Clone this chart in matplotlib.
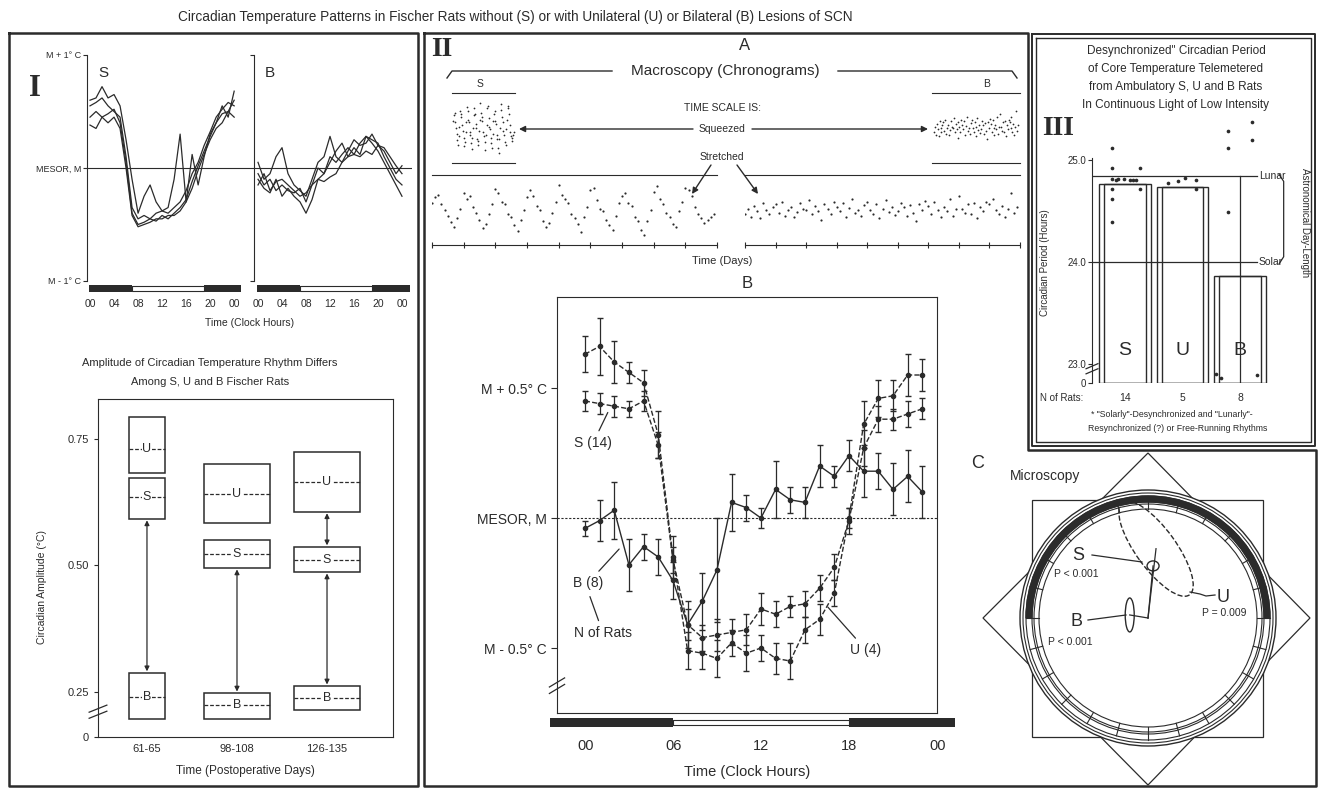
import numpy as np
import matplotlib.pyplot as plt
from matplotlib.patches import Rectangle, Ellipse, Circle, Polygon, Wedge
from matplotlib.transforms import blended_transform_factory

W, H = 1319, 789
plt.rcParams['font.family'] = ['Liberation Sans', 'DejaVu Sans']
INK = '#2b2b2b'

# ---------- Panel I (top): single rats, hourly means relative to MESOR (deg C)
hours25 = list(range(25))
S_rats = [
    [0.60, 0.62, 0.72, 0.62, 0.65, 0.55, 0.25, -0.10, -0.40, -0.25, -0.15, -0.30, -0.38, -0.35, -0.10, 0.30, -0.30, 0.12, -0.15, 0.10, 0.30, 0.40, 0.55, 0.45, 0.68],
    [0.55, 0.58, 0.62, 0.55, 0.50, 0.45, 0.10, -0.35, -0.45, -0.42, -0.45, -0.40, -0.38, -0.40, -0.35, -0.30, -0.20, -0.05, 0.05, 0.20, 0.32, 0.45, 0.52, 0.58, 0.55],
    [0.45, 0.50, 0.45, 0.48, 0.52, 0.40, 0.05, -0.40, -0.50, -0.48, -0.45, -0.47, -0.42, -0.45, -0.40, -0.35, -0.28, -0.12, 0.02, 0.15, 0.28, 0.40, 0.48, 0.50, 0.45],
    [0.38, 0.35, 0.45, 0.40, 0.45, 0.35, 0.00, -0.42, -0.52, -0.50, -0.48, -0.45, -0.45, -0.42, -0.42, -0.38, -0.30, -0.18, -0.02, 0.12, 0.25, 0.35, 0.40, 0.50, 0.60],
]
B_rats = [
    [0.05, -0.10, -0.05, 0.10, 0.18, -0.05, -0.15, -0.20, -0.25, -0.10, 0.05, 0.10, 0.28, 0.10, 0.05, 0.15, 0.25, 0.20, 0.22, 0.30, 0.20, 0.15, 0.05, -0.05, 0.02],
    [-0.05, -0.15, -0.10, -0.20, -0.15, -0.20, -0.22, -0.18, -0.30, -0.15, 0.00, -0.05, 0.10, 0.05, 0.12, 0.18, 0.12, 0.22, 0.28, 0.25, 0.22, 0.10, 0.00, -0.10, -0.15],
    [-0.10, -0.18, -0.22, -0.10, -0.25, -0.18, -0.25, -0.30, -0.40, -0.28, -0.10, -0.05, 0.05, 0.15, 0.22, 0.10, 0.18, 0.12, 0.28, 0.22, 0.15, 0.05, -0.05, -0.15, -0.25],
    [-0.15, -0.05, -0.20, -0.12, -0.10, -0.15, -0.20, -0.25, -0.22, -0.15, -0.10, -0.12, -0.08, -0.05, 0.05, 0.10, 0.12, 0.10, 0.15, 0.12, 0.20, 0.18, 0.10, 0.02, -0.05],
]
lights_I = (7, 19)

# ---------- Panel I (bottom): amplitude (low, high, mean) per group
amp_groups = ['61-65', '98-108', '126-135']
amp_U = [(0.683, 0.793, 0.730), (0.584, 0.701, 0.641), (0.606, 0.724, 0.665)]
amp_S = [(0.592, 0.673, 0.635), (0.495, 0.550, 0.523), (0.487, 0.537, 0.511)]
amp_B = [(0.197, 0.288, 0.240), (0.197, 0.248, 0.224), (0.214, 0.262, 0.238)]
box_w = [0.39, 0.73, 0.73]

# ---------- Panel II A: chronograms (relative scale 0..1), 10 values per day
S_chrono = [
    0.60, 0.68, 0.72, 0.58, 0.50, 0.42, 0.33, 0.26, 0.38, 0.52,
    0.74, 0.66, 0.70, 0.55, 0.46, 0.36, 0.24, 0.30, 0.44, 0.58,
    0.80, 0.75, 0.62, 0.58, 0.44, 0.40, 0.28, 0.20, 0.36, 0.50,
    0.68, 0.78, 0.70, 0.56, 0.50, 0.34, 0.26, 0.32, 0.46, 0.62,
    0.86, 0.72, 0.66, 0.60, 0.45, 0.38, 0.30, 0.18, 0.40, 0.55,
    0.78, 0.82, 0.64, 0.52, 0.48, 0.36, 0.28, 0.22, 0.42, 0.60,
    0.70, 0.74, 0.60, 0.56, 0.40, 0.34, 0.22, 0.14, 0.35, 0.50,
    0.76, 0.84, 0.66, 0.58, 0.46, 0.40, 0.30, 0.26, 0.48, 0.62,
    0.82, 0.78, 0.70, 0.54, 0.44, 0.38, 0.32, 0.36, 0.40, 0.44,
]
B_chrono = [
    0.45, 0.52, 0.40, 0.56, 0.48, 0.38, 0.60, 0.50, 0.44, 0.55,
    0.58, 0.46, 0.62, 0.42, 0.50, 0.54, 0.40, 0.47, 0.60, 0.52,
    0.50, 0.64, 0.44, 0.56, 0.48, 0.36, 0.58, 0.52, 0.45, 0.62,
    0.55, 0.48, 0.60, 0.40, 0.53, 0.66, 0.46, 0.50, 0.42, 0.57,
    0.62, 0.50, 0.45, 0.58, 0.38, 0.52, 0.64, 0.47, 0.55, 0.43,
    0.48, 0.60, 0.54, 0.42, 0.57, 0.46, 0.35, 0.58, 0.50, 0.63,
    0.56, 0.44, 0.62, 0.50, 0.40, 0.55, 0.48, 0.66, 0.42, 0.52,
    0.70, 0.52, 0.46, 0.58, 0.44, 0.60, 0.38, 0.54, 0.48, 0.62,
    0.58, 0.66, 0.50, 0.45, 0.56, 0.40, 0.52, 0.74, 0.46, 0.55,
]
per_day = 10

# ---------- Panel II B: group means +- SE, hourly (deg C from MESOR)
hours24 = list(range(24))
U_mean = [0.63, 0.66, 0.60, 0.56, 0.52, 0.32, -0.15, -0.51, -0.52, -0.54, -0.48, -0.52, -0.50, -0.54, -0.55, -0.43, -0.39, -0.29, 0.00, 0.36, 0.46, 0.47, 0.55, 0.55]
U_err = [0.07, 0.11, 0.08, 0.04, 0.05, 0.09, 0.08, 0.07, 0.06, 0.07, 0.05, 0.07, 0.05, 0.06, 0.07, 0.05, 0.06, 0.05, 0.04, 0.09, 0.07, 0.06, 0.08, 0.06]
S_mean = [0.45, 0.44, 0.43, 0.42, 0.45, 0.28, -0.16, -0.41, -0.46, -0.45, -0.44, -0.43, -0.35, -0.37, -0.34, -0.33, -0.27, -0.19, -0.01, 0.27, 0.38, 0.38, 0.40, 0.42]
S_err = [0.04, 0.04, 0.04, 0.03, 0.04, 0.05, 0.05, 0.06, 0.05, 0.06, 0.05, 0.06, 0.06, 0.05, 0.04, 0.05, 0.05, 0.05, 0.05, 0.07, 0.05, 0.04, 0.05, 0.04]
B_mean = [-0.04, -0.01, 0.03, -0.18, -0.11, -0.15, -0.24, -0.41, -0.32, -0.20, 0.06, 0.04, 0.00, 0.11, 0.07, 0.06, 0.20, 0.16, 0.24, 0.18, 0.18, 0.11, 0.16, 0.10]
B_err = [0.03, 0.08, 0.11, 0.10, 0.05, 0.07, 0.07, 0.09, 0.11, 0.20, 0.11, 0.05, 0.04, 0.11, 0.05, 0.06, 0.08, 0.04, 0.06, 0.10, 0.07, 0.10, 0.10, 0.10]
lights_II = (6, 18)

# ---------- Panel III: circadian period (hours)
period_groups = ['S', 'U', 'B']
period_mean = [24.76, 24.74, 23.86]
n_rats = [14, 5, 8]
period_S = [25.12, 24.92, 24.81, 24.81, 24.81, 24.72, 24.62, 24.39, 24.92, 24.72, 24.80, 24.80, 24.80, 24.80]
offset_S = [-0.23, -0.23, -0.23, -0.12, -0.02, -0.23, -0.23, -0.23, 0.26, 0.26, 0.08, 0.14, 0.20, -0.16]
period_U = [24.77, 24.79, 24.82, 24.80, 24.72]
offset_U = [-0.26, -0.08, 0.04, 0.23, 0.23]
period_B = [25.29, 25.12, 25.37, 25.20, 24.49, 22.90, 22.86, 22.89]
offset_B = [-0.21, -0.21, 0.21, 0.21, -0.21, -0.42, -0.33, 0.30]
lunar_day, solar_day = 24.84, 24.0

# ---------- Panel C: cosinor (acrophase in clock hours, amplitude as fraction of inner ring)
cos_names = ['S', 'U', 'B']
cos_phase = [0.37, 0.44, 18.63]
cos_amp = [0.48, 0.64, 0.17]
cos_ell = [(12, 10, 0), (114, 40, -54), (9, 34, 0)]
cos_p = ['P < 0.001', 'P = 0.009', 'P < 0.001']

fig = plt.figure(figsize=(W / 100, H / 100), dpi=100)
fig.patch.set_facecolor('white')


def px_axes(x0, y0, x1, y1):
    ax = fig.add_axes([x0 / W, 1 - y1 / H, (x1 - x0) / W, (y1 - y0) / H])
    ax.set_facecolor('none')
    return ax


def only_spines(ax, keep):
    for k, s in ax.spines.items():
        s.set_visible(k in keep)
        s.set_color(INK)


def light_bar(x0, y0, x1, y1, xmin, xmax, lights, ticks, fs, pad):
    ax = px_axes(x0, y0, x1, y1)
    on, off = lights
    ax.set_xlim(xmin, xmax)
    ax.set_ylim(0, 1)
    ax.broken_barh([(xmin, on - xmin), (off, xmax - off)], (0, 1), facecolors=INK)
    ax.broken_barh([(on, off - on)], (0.2, 0.6), facecolors='white', edgecolors=INK, linewidth=0.8)
    only_spines(ax, [])
    ax.set_yticks([])
    ax.set_xticks(ticks)
    ax.set_xticklabels(['%02d' % (t % 24) for t in ticks], fontsize=fs, color=INK)
    ax.tick_params(axis='x', length=0, pad=pad)
    return ax


bg = px_axes(0, 0, W, H)
bg.set_xlim(0, W)
bg.set_ylim(H, 0)
bg.axis('off')

# panel frames
bg.plot([9, 418, 418, 9, 9], [33, 33, 786, 786, 33], color=INK, lw=1.8)
bg.plot([424, 1028, 1028, 1316, 1316, 424, 424], [33, 33, 450, 450, 786, 786, 33], color=INK, lw=1.8)
bg.plot([1032, 1315, 1315, 1032, 1032], [34, 34, 446, 446, 34], color=INK, lw=1.4)
bg.plot([1036, 1311, 1311, 1036, 1036], [38, 38, 442, 442, 38], color=INK, lw=1.0)

bg.text(515, 17, 'Circadian Temperature Patterns in Fischer Rats without (S) or with Unilateral (U) or Bilateral (B) Lesions of SCN',
        ha='center', va='center', fontsize=9.8, color=INK)

# ================= Panel I top
bg.text(35, 88, 'I', family='Liberation Serif', fontweight='bold', fontsize=22, ha='center', va='center', color=INK)
for x0, x1, xl, rats, name, labelled in ((87, 254, (-0.5, 27.3), S_rats, 'S', True),
                                        (254, 412, (-0.67, 25.67), B_rats, 'B', False)):
    ax = px_axes(x0, 55, x1, 281)
    for v in rats:
        ax.plot(hours25, v, color=INK, lw=0.9)
    ax.axhline(0, color=INK, lw=0.8)
    ax.set_xlim(*xl)
    ax.set_ylim(-1, 1)
    only_spines(ax, ['left'])
    ax.set_xticks([])
    ax.set_yticks([-1, 0, 1])
    ax.tick_params(axis='y', length=3, color=INK, labelsize=6.5, labelcolor=INK, pad=1)
    if labelled:
        ax.set_yticklabels(['M - 1° C', 'MESOR, M', 'M + 1° C'])
    else:
        ax.set_yticks([-1, 1])
        ax.set_yticklabels([])
    ax.text(0.07, 0.92, name, transform=ax.transAxes, fontsize=11, color=INK, va='center')
light_bar(89, 285, 241, 292, -0.2, 25.1, lights_I, list(range(0, 25, 4)), 7.5, 5)
light_bar(257, 285, 410, 292, -0.2, 25.3, lights_I, list(range(0, 25, 4)), 7.5, 5)
bg.text(250, 323, 'Time (Clock Hours)', ha='center', va='center', fontsize=7.5, color=INK)

# ================= Panel I bottom
bg.text(210, 363, 'Amplitude of Circadian Temperature Rhythm Differs', ha='center', va='center', fontsize=8, color=INK)
bg.text(210, 382, 'Among S, U and B Fischer Rats', ha='center', va='center', fontsize=8, color=INK)
axA = px_axes(98, 399, 393, 737)
axA.set_ylim(0.161, 0.829)
axA.set_xlim(-0.544, 2.733)
for s in axA.spines.values():
    s.set_color(INK)
ybot = axA.get_ylim()[0]
axA.set_yticks([ybot, 0.25, 0.50, 0.75])
axA.set_yticklabels(['0', '0.25', '0.50', '0.75'])
axA.set_xticks(range(len(amp_groups)))
axA.set_xticklabels(amp_groups)
axA.tick_params(labelsize=8, labelcolor=INK, color=INK, length=3)
axA.tick_params(axis='x', length=0, pad=5)
for i, w in enumerate(box_w):
    for name, (lo, hi, m) in zip('USB', (amp_U[i], amp_S[i], amp_B[i])):
        axA.add_patch(Rectangle((i - w / 2, lo), w, hi - lo, fill=False, ec=INK, lw=1.1))
        axA.plot([i - w / 2, i + w / 2], [m, m], color=INK, lw=0.9, ls=(0, (3, 1.5)))
        axA.text(i, m, name, ha='center', va='center', fontsize=9, color=INK,
                 bbox=dict(fc='white', ec='none', pad=0.6))
    pairs = [(amp_S[i][0], amp_B[i][1])]
    if i == 2:
        pairs.append((amp_U[i][0], amp_S[i][1]))
    for a, b in pairs:
        axA.annotate('', xy=(i, b), xytext=(i, a),
                     arrowprops=dict(arrowstyle='<|-|>', color=INK, lw=0.9, mutation_scale=7, shrinkA=1, shrinkB=1))
tr = blended_transform_factory(axA.transAxes, axA.transData)
for dy in (0.0, 0.012):
    axA.plot([-0.03, 0.03], [0.198 + dy, 0.212 + dy], transform=tr, color=INK, lw=0.9, clip_on=False)
bg.text(42, 587, 'Circadian Amplitude (°C)', rotation=90, ha='center', va='center', fontsize=7.5, color=INK)
bg.text(245, 771, 'Time (Postoperative Days)', ha='center', va='center', fontsize=8.5, color=INK)

# ================= Panel II A
bg.text(442, 49, 'II', family='Liberation Serif', fontweight='bold', fontsize=20, ha='center', va='center', color=INK)
bg.text(745, 45, 'A', ha='center', va='center', fontsize=12, color=INK)
bg.plot([447, 452, 612], [78, 71, 71], color=INK, lw=1.0)
bg.plot([838, 1012, 1017], [71, 71, 78], color=INK, lw=1.0)
bg.text(725, 71, 'Macroscopy (Chronograms)', ha='center', va='center', fontsize=11, color=INK)
bg.text(480, 84, 'S', ha='center', va='center', fontsize=7.5, color=INK)
bg.text(987, 84, 'B', ha='center', va='center', fontsize=7.5, color=INK)
bg.text(722, 108, 'TIME SCALE IS:', ha='center', va='center', fontsize=7.5, color=INK)
bg.text(722, 129, 'Squeezed', ha='center', va='center', fontsize=7.5, color=INK)
bg.text(722, 157, 'Stretched', ha='center', va='center', fontsize=7.5, color=INK)
arrow = dict(arrowstyle='-|>', color=INK, lw=1.0, mutation_scale=9, shrinkA=0, shrinkB=0)
bg.annotate('', xy=(519, 129), xytext=(693, 129), arrowprops=arrow)
bg.annotate('', xy=(928, 129), xytext=(752, 129), arrowprops=arrow)
bg.annotate('', xy=(692, 194), xytext=(711, 165), arrowprops=arrow)
bg.annotate('', xy=(758, 194), xytext=(737, 165), arrowprops=arrow)
bg.text(722, 261, 'Time (Days)', ha='center', va='center', fontsize=8, color=INK)

for (x0, x1), vals in (((452, 515), S_chrono), ((932, 1020), B_chrono)):
    ax = px_axes(x0, 93, x1, 163)
    ax.scatter(range(len(vals)), vals, s=1.6, color=INK, lw=0)
    ax.set_xlim(-2, len(vals) + 1)
    ax.set_ylim(0, 1)
    only_spines(ax, ['top', 'bottom'])
    ax.set_xticks([])
    ax.set_yticks([])

for (x0, x1), vals in (((432, 717), S_chrono), ((745, 1020), B_chrono)):
    ax = px_axes(x0, 175, x1, 245)
    days = np.arange(len(vals)) / per_day
    ax.scatter(days, vals, s=2.5, color=INK, lw=0)
    ax.set_xlim(0, len(vals) / per_day)
    ax.set_ylim(0, 1)
    only_spines(ax, ['top', 'bottom'])
    ax.set_yticks([])
    ax.set_xticks(range(0, len(vals) // per_day + 1))
    ax.set_xticklabels([])
    ax.tick_params(axis='x', direction='inout', length=5, color=INK)

# ================= Panel II B
bg.text(747, 283, 'B', ha='center', va='center', fontsize=12, color=INK)
axT = px_axes(557, 297, 937, 713)
axT.set_xlim(-1.9, 24)
axT.set_ylim(-0.75, 0.85)
for s in axT.spines.values():
    s.set_color(INK)
axT.axhline(0, color=INK, lw=0.8, ls=(0, (2, 1.5)))
eb = dict(ms=3, color=INK, ecolor=INK, elinewidth=0.9, capsize=2.5, lw=1.0)
axT.errorbar(hours24, U_mean, yerr=U_err, fmt='o--', **eb)
axT.errorbar(hours24, S_mean, yerr=S_err, fmt='o--', **eb)
axT.errorbar(hours24, B_mean, yerr=B_err, fmt='o-', **eb)
axT.set_xticks([])
axT.set_yticks([0.5, 0, -0.5])
axT.set_yticklabels(['M + 0.5° C', 'MESOR, M', 'M - 0.5° C'])
axT.tick_params(axis='y', labelsize=10, labelcolor=INK, color=INK, length=4)
tr = blended_transform_factory(axT.transAxes, axT.transData)
for dy in (0.0, 0.025):
    axT.plot([-0.02, 0.02], [-0.675 + dy, -0.64 + dy], transform=tr, color=INK, lw=0.9, clip_on=False)
light_bar(550, 718, 955, 727, -2.4, 25.2, lights_II, [0, 6, 12, 18, 24], 10.5, 9)
bg.text(747, 772, 'Time (Clock Hours)', ha='center', va='center', fontsize=10.5, color=INK)
line = dict(arrowstyle='-', color=INK, lw=0.9)
bg.annotate('S (14)', xy=(609, 410), xytext=(593, 443), ha='center', va='center', fontsize=10, color=INK, arrowprops=line)
bg.annotate('B (8)', xy=(621, 547), xytext=(588, 583), ha='center', va='center', fontsize=10, color=INK, arrowprops=line)
bg.annotate('N of Rats', xy=(589, 594), xytext=(603, 633), ha='center', va='center', fontsize=10, color=INK, arrowprops=line)
bg.annotate('U (4)', xy=(826, 605), xytext=(866, 650), ha='center', va='center', fontsize=10, color=INK, arrowprops=line)

# ================= Panel III
for k, t in enumerate(['Desynchronized" Circadian Period', 'of Core Temperature Telemetered',
                       'from Ambulatory S, U and B Rats', 'In Continuous Light of Low Intensity']):
    bg.text(1176, 51 + 18 * k, t, ha='center', va='center', fontsize=8.5, color=INK)
bg.text(1058, 128, 'III', family='Liberation Serif', fontweight='bold', fontsize=20, ha='center', va='center', color=INK)
axP = px_axes(1092, 158, 1290, 383)
axP.set_ylim(22.81, 25.02)
axP.set_xlim(-0.574, 2.87)
only_spines(axP, ['left'])
pbot = axP.get_ylim()[0]
pos = np.arange(len(period_groups))
hb = [m - pbot for m in period_mean]
axP.bar(pos, hb, bottom=pbot, width=0.9, fill=False, edgecolor=INK, lw=1.0)
axP.bar(pos, hb, bottom=pbot, width=0.72, fill=False, edgecolor=INK, lw=1.0)
axP.plot([-0.574, 2.3], [lunar_day, lunar_day], color=INK, lw=0.9)
axP.plot([-0.574, 2.3], [solar_day, solar_day], color=INK, lw=0.9)
axP.plot([2, 2], [pbot, lunar_day], color=INK, lw=0.9)
axP.text(2.33, lunar_day, 'Lunar', va='center', fontsize=7.5, color=INK)
axP.text(2.33, solar_day, 'Solar', va='center', fontsize=7.5, color=INK)
axP.plot([2.68, 2.76, 2.76, 2.68], [lunar_day + 0.02, lunar_day - 0.05, solar_day + 0.05, solar_day - 0.02],
         color=INK, lw=0.9, clip_on=False)
for p, vals, offs in ((0, period_S, offset_S), (1, period_U, offset_U), (2, period_B, offset_B)):
    axP.scatter([p + o for o in offs], vals, s=7, color=INK, lw=0, clip_on=False, zorder=3)
for p, g in zip(pos, period_groups):
    axP.text(p, 23.13, g, ha='center', va='center', fontsize=14, color=INK)
axP.set_xticks([])
axP.set_yticks([pbot, 23, 24, 25])
axP.set_yticklabels(['0', '23.0', '24.0', '25.0'])
axP.tick_params(axis='y', labelsize=7, labelcolor=INK, color=INK, length=3, pad=1)
tr = blended_transform_factory(axP.transAxes, axP.transData)
for dy in (0.0, 0.05):
    axP.plot([-0.03, 0.03], [22.90 + dy, 22.95 + dy], transform=tr, color=INK, lw=0.9, clip_on=False)
trn = blended_transform_factory(axP.transData, bg.transData)
bg.text(1062, 398, 'N of Rats:', ha='center', va='center', fontsize=7, color=INK)
for p, n in zip(pos, n_rats):
    bg.text(p, 398, str(n), transform=trn, ha='center', va='center', fontsize=7.5, color=INK)
bg.text(1045, 263, 'Circadian Period (Hours)', rotation=90, ha='center', va='center', fontsize=7, color=INK)
bg.text(1305, 223, 'Astronomical Day-Length', rotation=270, ha='center', va='center', fontsize=7, color=INK)
bg.text(1172, 414, '* "Solarly"-Desynchronized and "Lunarly"-', ha='center', va='center', fontsize=6.3, color=INK)
bg.text(1178, 428, 'Resynchronized (?) or Free-Running Rhythms', ha='center', va='center', fontsize=6.3, color=INK)

# ================= Panel C
bg.text(978, 463, 'C', ha='center', va='center', fontsize=13, color=INK)
bg.text(1045, 476, 'Microscopy', ha='center', va='center', fontsize=10, color=INK)
axC = px_axes(960, 452, 1316, 787)
axC.set_xlim(-188, 168)
axC.set_ylim(-169, 166)
axC.axis('off')
axC.add_patch(Rectangle((-116, -119), 231, 237, fill=False, ec=INK, lw=0.9))
axC.add_patch(Polygon([(0, 165), (162, 0), (0, -167), (-165, 0)], closed=True, fill=False, ec=INK, lw=0.9))
axC.add_patch(Circle((0, 0), 128, fc='white', ec=INK, lw=1.0, zorder=2))
for r in (125, 122, 116, 114, 109):
    axC.add_patch(Circle((0, 0), r, fill=False, ec=INK, lw=0.8, zorder=3))
axC.add_patch(Wedge((0, 0), 122, 0, 180, width=6, color=INK, zorder=3))
for h in range(24):
    a = np.deg2rad(90 - 15 * h)
    axC.plot([109 * np.cos(a), 122 * np.cos(a)], [109 * np.sin(a), 122 * np.sin(a)], color=INK, lw=0.8, zorder=3)
r_in = 109
for name, ph, amp, (ew, eh, ea) in zip(cos_names, cos_phase, cos_amp, cos_ell):
    a = np.deg2rad(90 - 15 * ph)
    cx, cy = amp * r_in * np.cos(a), amp * r_in * np.sin(a)
    axC.plot([0, cx], [0, cy], color=INK, lw=0.9, zorder=4)
    axC.add_patch(Ellipse((cx, cy), ew, eh, angle=ea, fill=False, ec=INK, lw=1.0, zorder=4,
                          ls='--' if name == 'U' else '-'))
axC.plot([-56, -6], [63, 56], color=INK, lw=0.9, zorder=4)
axC.plot([42, 52, 58, 67], [26, 24, 22, 23], color=INK, lw=0.9, zorder=4)
axC.plot([-60, -22], [-2, 3], color=INK, lw=0.9, zorder=4)
for name, (tx, ty), p, (px, py) in zip(cos_names, [(-70, 63), (75, 21), (-71, -4)], cos_p,
                                       [(-72, 44), (76, 5), (-78, -24)]):
    axC.text(tx, ty, name, ha='center', va='center', fontsize=13, color=INK, zorder=5)
    axC.text(px, py, p, ha='center', va='center', fontsize=7.5, color=INK, zorder=5)

fig.savefig('out.png', dpi=100, facecolor='white')
